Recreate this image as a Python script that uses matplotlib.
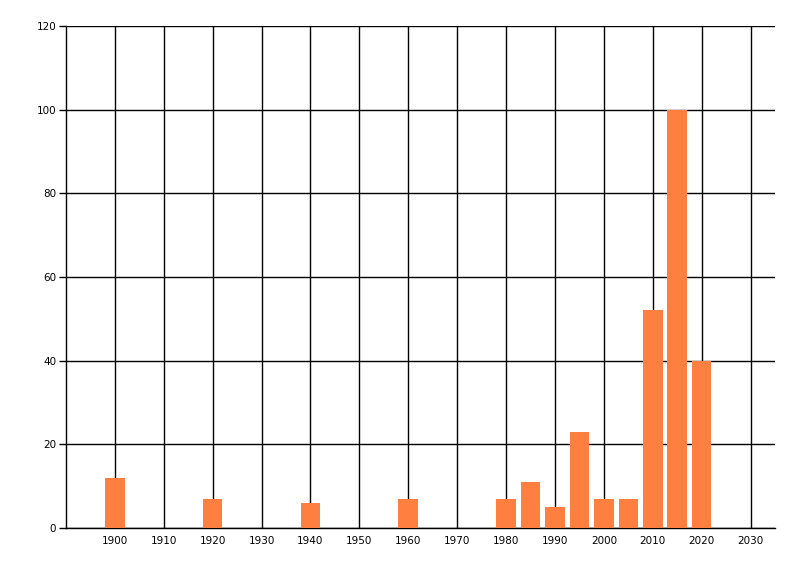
import matplotlib
matplotlib.use("Agg")
import matplotlib.pyplot as plt

years = [1900, 1920, 1940, 1960, 1980, 1985, 1990, 1995, 2000, 2005, 2010, 2015, 2020]
values = [12, 7, 6, 7, 7, 11, 5, 23, 7, 7, 52, 100, 40]
xticks = list(range(1900, 2031, 10))
yticks = [0, 20, 40, 60, 80, 100, 120]

fig = plt.figure(figsize=(8, 5.76), dpi=100)
ax = fig.add_axes([66/800, 48/576, (775-66)/800, (528-26)/576])
ax.set_axisbelow(True)
ax.bar(years, values, width=4.0, color='#FF7F40', zorder=3)
ax.set_xlim(1890, 2035)
ax.set_ylim(0, 120)
ax.set_xticks(xticks)
ax.set_yticks(yticks)
ax.grid(True, color='black', linewidth=1.0)
for s in ['top', 'right']:
    ax.spines[s].set_visible(False)
ax.spines['left'].set_linewidth(1.0)
ax.spines['bottom'].set_linewidth(1.0)
ax.tick_params(axis='x', length=0, pad=6, labelsize=7.5)
ax.tick_params(axis='y', length=5, width=1, pad=2, labelsize=7.5)
fig.savefig('out.png', dpi=100, facecolor='white')
